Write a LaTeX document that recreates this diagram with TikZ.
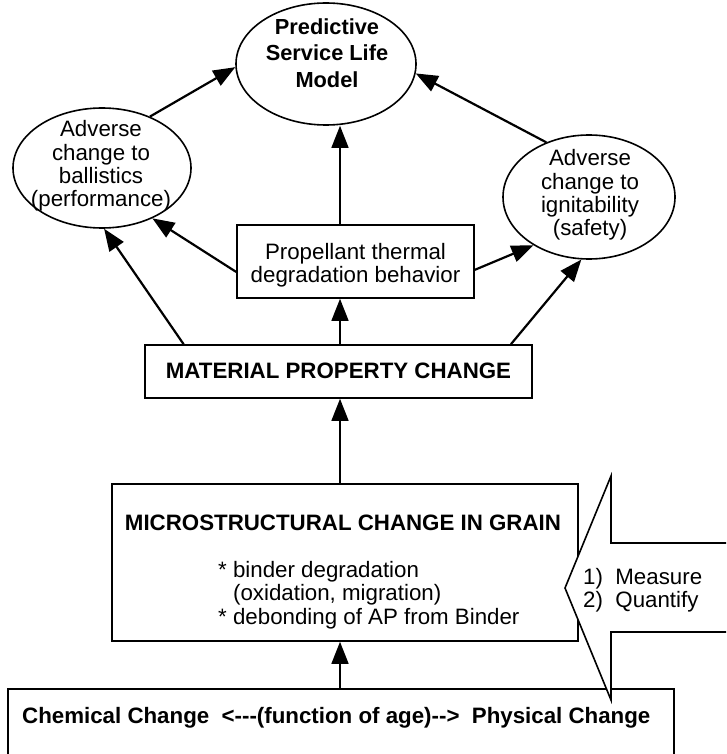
\documentclass[tikz,border=0pt]{standalone}
\usepackage{fontspec}
\setmainfont{Liberation Sans}
\usetikzlibrary{arrows.meta,shapes.geometric}
\begin{document}
\begin{tikzpicture}[x=1pt,y=-1pt,
  thin conn/.style={line width=1.5pt,-{Triangle[length=22pt,width=17pt]}},
  conn/.style={line width=2.2pt,-{Triangle[length=22pt,width=17pt]}},
  oval/.style={draw,ellipse,line width=1.6pt,inner sep=0pt},
  boxnode/.style={draw,rectangle,line width=1.6pt,inner sep=0pt},
  reg/.style={inner sep=0pt,align=center,font=\fontsize{22.3}{23.3}\selectfont},
  bld/.style={inner sep=0pt,font=\bfseries\fontsize{22.3}{22}\selectfont}]
\useasboundingbox (0,0) rectangle (726,754);
\clip (0,0) rectangle (726,754);
% shapes
\node[oval,minimum width=180pt,minimum height=122pt] (top) at (326,64) {};
\node[oval,minimum width=178pt,minimum height=120pt] (lft) at (102,168) {};
\node[oval,minimum width=172pt,minimum height=124pt] (rgt) at (589,197) {};
\node[boxnode,minimum width=237pt,minimum height=73pt] (mid) at (355.5,261.5) {};
\node[boxnode,minimum width=387pt,minimum height=53pt] (mat) at (338.5,371.5) {};
\node[boxnode,minimum width=466pt,minimum height=157pt] (mic) at (345,562.5) {};
\node[boxnode,minimum width=666pt,minimum height=100pt] (chem) at (341,739) {};
% texts
\node[inner sep=0pt,align=center,font=\bfseries\fontsize{21.8}{26.5}\selectfont] (toptxt) at (327,53) {Predictive\\Service Life\\Model};
\node[reg] (lfttxt) at (101,166) {Adverse\\change to\\ballistics\\(performance)};
\node[reg] (rgttxt) at (590,195) {Adverse\\change to\\ignitability\\(safety)};
\node[reg] (midtxt) at (355.5,265) {Propellant thermal\\degradation behavior};
\node[bld] (mattxt) at (338.5,371) {MATERIAL PROPERTY CHANGE};
\node[bld] (mictitle) at (343,523) {MICROSTRUCTURAL CHANGE IN GRAIN};
\node[reg,align=left,anchor=west] (micbul) at (218,595) {* binder degradation\\\phantom{* }(oxidation, migration)\\* debonding of AP from Binder};
\node[bld,anchor=west] (chemtxt) at (22,718) {Chemical Change\ \ {<}{-}{-}{-}(function of age){-}{-}{>}\ \ Physical Change};
% block arrow
\draw[line width=1.6pt,fill=white] (726,543) -- (611,543) -- (611,476) -- (565,588) -- (611,700) -- (611,632) -- (726,632);
\node[reg,align=left,anchor=west] (meas) at (583,590.5) {1)\ \ Measure\\2)\ \ Quantify};
% connectors
\coordinate (v1) at (340,0);
\draw[thin conn] (chem.north -| v1) -- (mic.south -| v1);
\draw[thin conn] (mic.north -| v1) -- (mat.south -| v1);
\draw[thin conn] (mat.north -| v1) -- (mid.south -| v1);
\draw[thin conn] (mid.north -| v1) -- (top.south -| v1);
\draw[conn] (mat.170.4) -- (lft.-88);
\draw[conn] (mat.9.3) -- (rgt.-97);
\draw[conn] (mid.185) -- (lft.-45.5);
\draw[conn] (mid.-4) -- (rgt.-139.3);
\draw[conn] (lft.47) -- (top.182);
\draw[conn] (rgt.128.5) -- (top.-6);
\end{tikzpicture}
\end{document}
